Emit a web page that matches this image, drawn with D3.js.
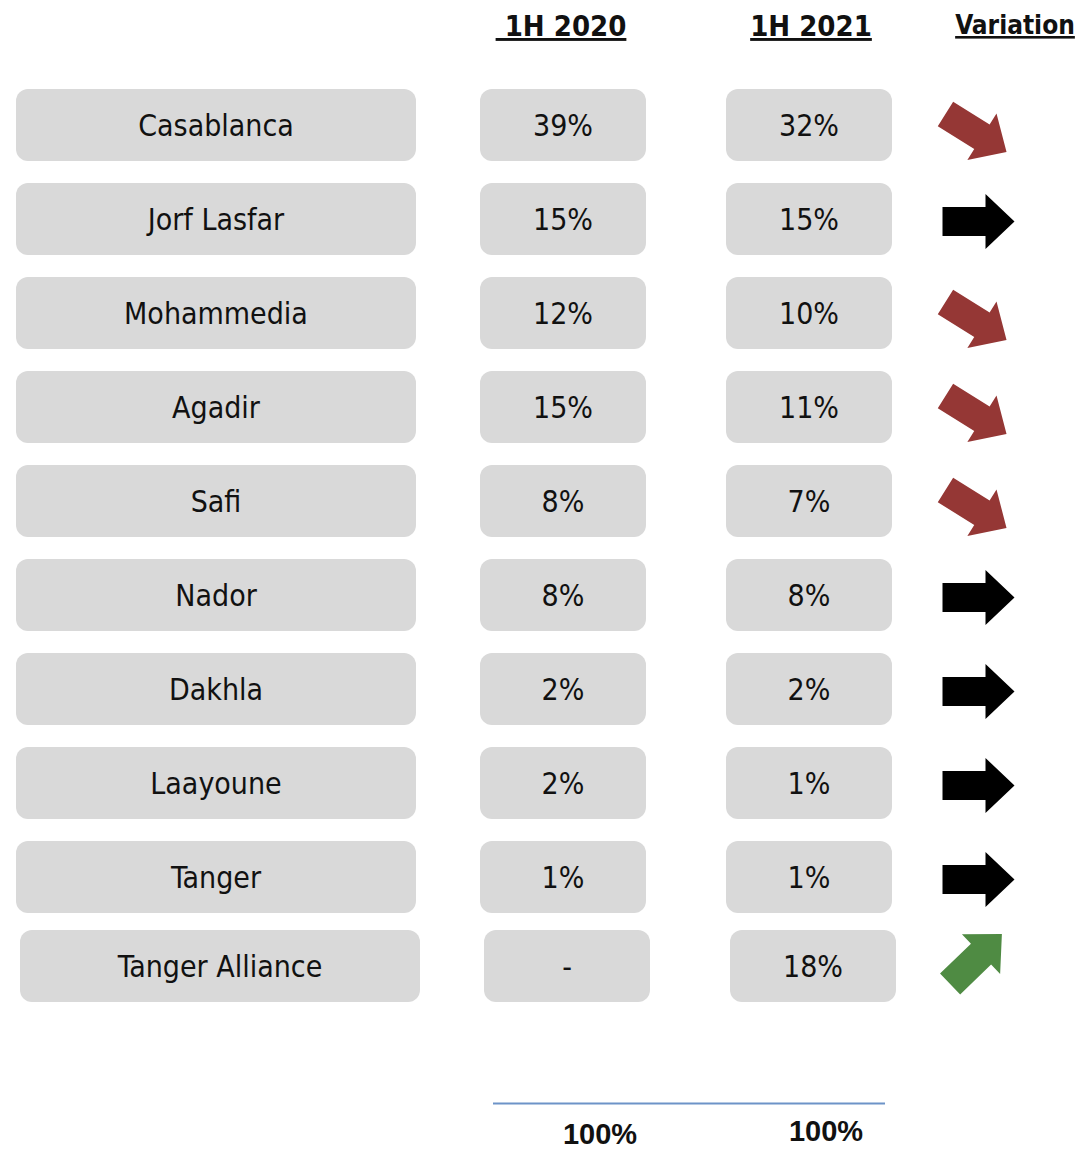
<!DOCTYPE html>
<html>
<head>
<meta charset="utf-8">
<script src="https://cdn.jsdelivr.net/npm/d3@7"></script>
<style>
  body { margin: 0; background: #fff; }
  svg text { font-family: "DejaVu Sans Condensed", "DejaVu Sans", sans-serif; }
</style>
</head>
<body>
<div id="chart"></div>
<script>
// port share per city, first half of each year
const ports = ["Casablanca", "Jorf Lasfar", "Mohammedia", "Agadir", "Safi", "Nador", "Dakhla", "Laayoune", "Tanger", "Tanger Alliance"]
const share2020 = ["39%", "15%", "12%", "15%", "8%", "8%", "2%", "2%", "1%", "-"]
const share2021 = ["32%", "15%", "10%", "11%", "7%", "8%", "2%", "1%", "1%", "18%"]
const variation = ["down", "flat", "down", "down", "down", "flat", "flat", "flat", "flat", "up"]
const headers = [" 1H 2020", "1H 2021", "Variation"]
const totals = ["100%", "100%"]

const width = 1084
const height = 1150

const svg = d3.select("#chart")
    .append("svg")
    .attr("width", width)
    .attr("height", height)

// rows
const y = d3.scaleBand()
    .domain(ports)
    .range([89, 1007])
    .paddingInner(0.234)
    .paddingOuter(0)

// columns: name box, 2020 box, 2021 box
const cols = [
    { x: 16, w: 400 },
    { x: 480, w: 166 },
    { x: 726, w: 166 }
]
const arrowX = 977

// the last row sits a little off in the original
const shift = d => d === "Tanger Alliance" ? { dx: 4, dy: -5 } : { dx: 0, dy: 0 }

const arrowStyle = {
    down: { color: "#953735", angle: 32, dx: -1, dy: 8 },
    flat: { color: "#000000", angle: 0, dx: 1.5, dy: 2.5 },
    up: { color: "#4f8b43", angle: -44, dx: -5, dy: -7 }
}

// headers
svg.append("g")
    .selectAll("text")
    .data(headers)
    .join("text")
    .attr("x", (d, i) => i < 2 ? cols[i + 1].x + cols[i + 1].w / 2 - (i === 0 ? 2 : -2) : 1015)
    .attr("y", (d, i) => i < 2 ? 36 : 34)
    .attr("text-anchor", "middle")
    .style("font-weight", "bold")
    .style("font-size", (d, i) => i < 2 ? "29px" : "26px")
    .style("white-space", "pre")
    .style("text-decoration", "underline")
    .style("fill", "#111")
    .text(d => d)

const rows = svg.append("g")
    .selectAll(".row")
    .data(ports.map((p, i) => ({ port: p, a: share2020[i], b: share2021[i], v: variation[i] })))
    .join("g")
    .attr("class", "row")
    .attr("transform", d => `translate(${shift(d.port).dx}, ${y(d.port) + shift(d.port).dy})`)

// three boxes per row
cols.forEach((c, ci) => {
    rows.append("rect")
        .attr("x", c.x)
        .attr("y", 0)
        .attr("width", c.w)
        .attr("height", y.bandwidth())
        .attr("rx", 12)
        .attr("fill", "#d9d9d9")

    rows.append("text")
        .attr("x", c.x + c.w / 2)
        .attr("y", y.bandwidth() / 2)
        .attr("dy", "0.36em")
        .attr("text-anchor", "middle")
        .style("font-size", "30px")
        .style("fill", "#111")
        .text(d => ci === 0 ? d.port : ci === 1 ? d.a : d.b)
})

// arrow shape pointing right, centered on 0,0
const arrowPath = d3.line()([
    [-36, -14.5], [7, -14.5], [7, -27.5], [36, 0], [7, 27.5], [7, 14.5], [-36, 14.5]
]) + "Z"

rows.append("path")
    .attr("d", arrowPath)
    .attr("fill", d => arrowStyle[d.v].color)
    .attr("transform", d => {
        const s = arrowStyle[d.v]
        return `translate(${arrowX + s.dx}, ${y.bandwidth() / 2 + s.dy}) rotate(${s.angle})`
    })

// totals
svg.append("line")
    .attr("x1", 493)
    .attr("x2", 885)
    .attr("y1", 1103.5)
    .attr("y2", 1103.5)
    .attr("stroke", "#6d93c8")
    .attr("stroke-width", 2)

svg.append("g")
    .selectAll("text")
    .data(totals)
    .join("text")
    .attr("x", (d, i) => i === 0 ? 600 : 826)
    .attr("y", (d, i) => i === 0 ? 1144 : 1141)
    .attr("text-anchor", "middle")
    .style("font-family", "'Liberation Sans', Arial, sans-serif")
    .style("font-weight", "bold")
    .style("font-size", "29px")
    .style("fill", "#111")
    .text(d => d)
</script>
</body>
</html>
